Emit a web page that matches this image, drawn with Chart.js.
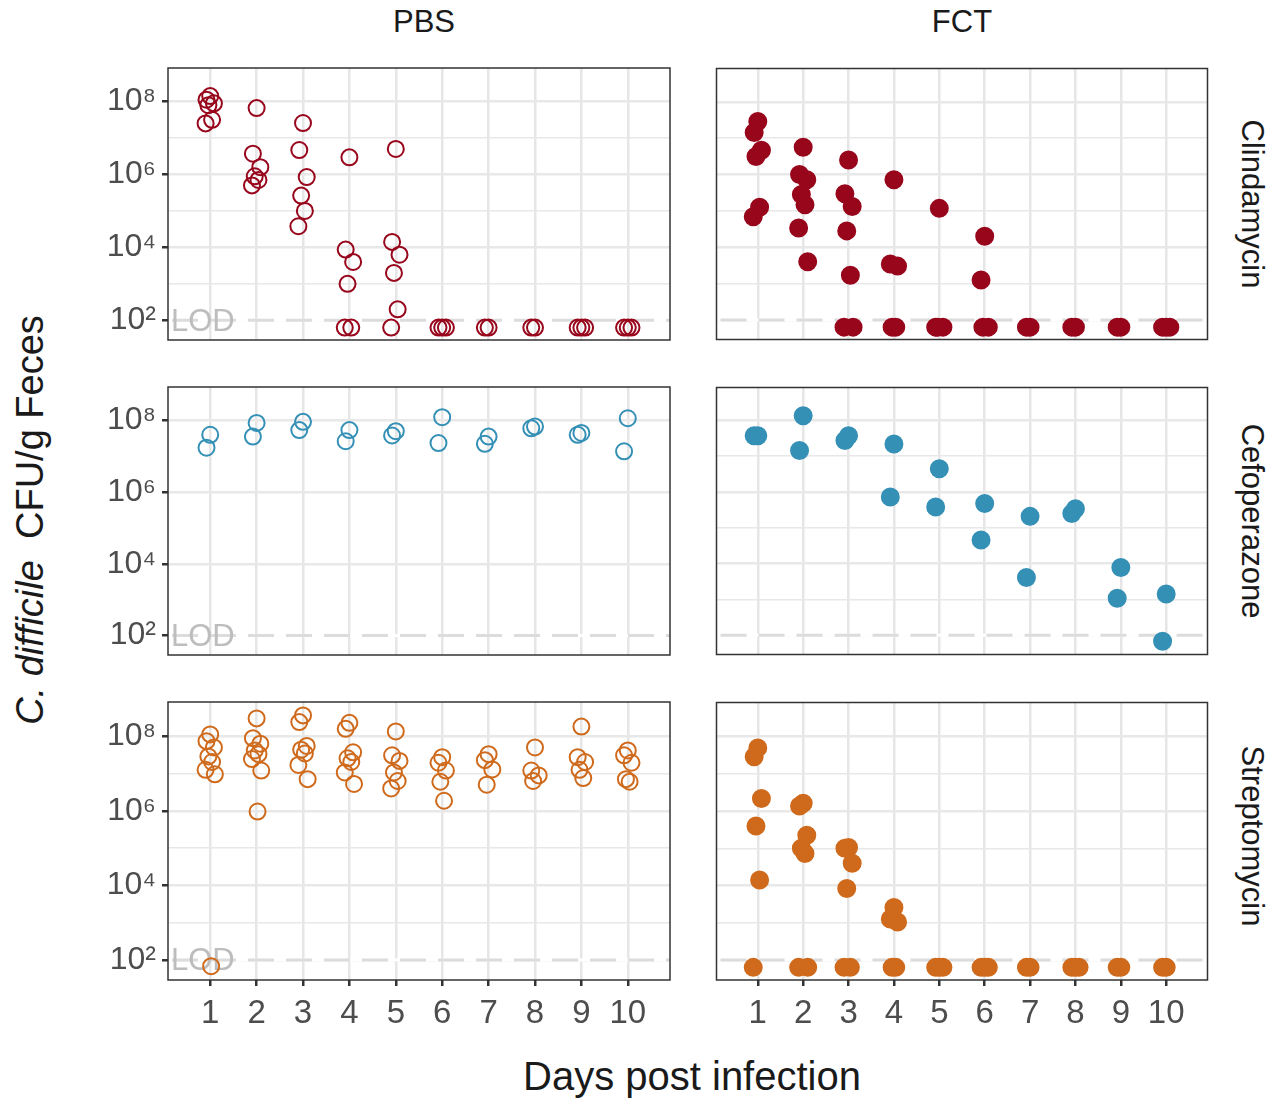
<!DOCTYPE html>
<html lang="en">
<head>
  <meta charset="UTF-8">
  <title>C. difficile CFU</title>
  <script src="https://cdn.jsdelivr.net/npm/chart.js"></script>
  <style>
    body { margin: 0; background: #fff; font-family: "Liberation Sans", Arial, sans-serif; }
    #wrap { position: relative; width: 1280px; height: 1111px; }
    .panel { position: absolute; }
    .txt { position: absolute; color: #1a1a1a; white-space: nowrap; }
    .strip { font-size: 31px; }
    .rot { transform-origin: center; transform: translate(-50%, -50%) rotate(90deg); }
  </style>
</head>
<body>
<div id="wrap">
  <div class="txt strip" style="left:424px;top:22px;transform:translate(-50%,-50%)">PBS</div>
  <div class="txt strip" style="left:962px;top:22px;transform:translate(-50%,-50%)">FCT</div>
  <div class="txt strip rot" style="left:1252px;top:204px">Clindamycin</div>
  <div class="txt strip rot" style="left:1252px;top:521px">Cefoperazone</div>
  <div class="txt strip rot" style="left:1252px;top:836px">Streptomycin</div>
  <div class="txt" style="left:30px;top:520px;font-size:38px;transform:translate(-50%,-50%) rotate(-90deg)"><i>C. difficile</i>&nbsp; CFU/g Feces</div>
  <div class="txt" style="left:692px;top:1076px;font-size:40px;transform:translate(-50%,-50%)">Days post infection</div>
</div>
<script>
  // values are log10(CFU/g); one inner list per day (1..10)
  const days = [1, 2, 3, 4, 5, 6, 7, 8, 9, 10];
  const yTicks = [2, 3, 4, 5, 6, 7, 8];
  const LOD = 2;
  const BL = 1.8; // below-detection points

  const clindaPBS = [
    [8.15, 8.05, 7.95, 7.9, 7.5, 7.4],
    [7.82, 6.57, 6.2, 5.95, 5.85, 5.7],
    [7.41, 6.67, 5.93, 5.42, 5.0, 4.58],
    [6.47, 3.94, 3.6, 3.0, BL, BL],
    [6.7, 4.15, 3.8, 3.3, 2.3, BL],
    [BL, BL, BL], [BL, BL], [BL, BL], [BL, BL, BL], [BL, BL, BL]
  ];
  const clindaFCT = [
    [7.46, 7.16, 6.67, 6.5, 5.1, 4.84],
    [6.75, 6.0, 5.86, 5.45, 5.17, 4.53, 3.6],
    [6.4, 5.47, 5.12, 4.45, 3.23, BL, BL],
    [5.86, 3.54, 3.48, BL, BL],
    [5.07, BL, BL, BL],
    [4.3, 3.1, BL, BL], [BL, BL], [BL, BL], [BL, BL], [BL, BL, BL]
  ];
  const cefoPBS = [
    [7.59, 7.23], [7.92, 7.54], [7.95, 7.72], [7.72, 7.41], [7.69, 7.57],
    [8.08, 7.36], [7.54, 7.34], [7.82, 7.77], [7.64, 7.59], [8.05, 7.13]
  ];
  const cefoFCT = [
    [7.57, 7.57], [8.13, 7.16], [7.57, 7.44], [7.34, 5.86], [6.65, 5.58],
    [5.68, 4.66], [5.32, 3.61], [5.53, 5.4], [3.89, 3.03], [3.15, 1.83]
  ];
  const strepPBS = [
    [8.05, 7.87, 7.7, 7.46, 7.31, 7.1, 6.98, 1.83],
    [8.48, 7.95, 7.8, 7.62, 7.52, 7.39, 7.08, 5.98],
    [8.56, 8.38, 7.74, 7.64, 7.54, 7.23, 6.85],
    [8.36, 8.2, 7.57, 7.41, 7.31, 7.03, 6.72],
    [8.13, 7.49, 7.34, 7.03, 6.8, 6.6],
    [7.44, 7.29, 7.08, 6.78, 6.27],
    [7.52, 7.36, 7.11, 6.7],
    [7.7, 7.08, 6.95, 6.8],
    [8.26, 7.44, 7.31, 7.1, 6.88],
    [7.62, 7.49, 7.29, 6.85, 6.78]
  ];
  const strepFCT = [
    [7.7, 7.46, 6.34, 5.6, 4.15, BL],
    [6.21, 6.14, 5.35, 5.0, 4.86, BL, BL],
    [5.02, 5.0, 4.6, 3.92, BL, BL],
    [3.41, 3.1, 3.02, BL, BL],
    [BL, BL, BL], [BL, BL, BL], [BL, BL], [BL, BL, BL], [BL, BL], [BL, BL]
  ];

  const RED = '#98061c', BLUE = '#3590b6', ORANGE = '#cf6a1c';
  const jitter = [0, -0.08, 0.08, -0.04, 0.04, -0.1, 0.1, 0.02];
  const sup = { 2: '²', 3: '³', 4: '⁴', 5: '⁵', 6: '⁶', 7: '⁷', 8: '⁸' };

  function toPoints(byDay) {
    const pts = [];
    byDay.forEach((vals, i) => vals.forEach((v, j) => pts.push({ x: days[i] + jitter[j % jitter.length], y: v })));
    return pts;
  }

  const frame = {
    id: 'frame',
    beforeDatasetsDraw(chart) {
      const { ctx, chartArea: a, scales } = chart;
      const y = scales.y.getPixelForValue(LOD);
      ctx.save();
      ctx.strokeStyle = '#ffffff'; ctx.lineWidth = 3;
      ctx.beginPath(); ctx.moveTo(a.left, y); ctx.lineTo(a.right, y); ctx.stroke();
      ctx.strokeStyle = '#dcdcdc'; ctx.setLineDash([26, 12]);
      ctx.beginPath(); ctx.moveTo(a.left + 4, y); ctx.lineTo(a.right, y); ctx.stroke();
      if (chart.options.showLod) {
        ctx.setLineDash([]);
        ctx.fillStyle = '#bdbdbd'; ctx.font = '31px "Liberation Sans", Arial';
        ctx.textBaseline = 'middle';
        ctx.fillText('LOD', a.left + 3, y + 2);
      }
      ctx.restore();
    },
    afterDraw(chart) {
      const { ctx, chartArea: a } = chart;
      ctx.save();
      ctx.strokeStyle = '#333'; ctx.lineWidth = 1.5;
      ctx.strokeRect(a.left, a.top, a.right - a.left, a.bottom - a.top);
      ctx.restore();
    }
  };

  function panel(left, top, w, h, data, color, filled, showY, showX) {
    const div = document.createElement('div');
    div.className = 'panel';
    Object.assign(div.style, { left: left + 'px', top: top + 'px', width: w + 'px', height: h + 'px' });
    const cv = document.createElement('canvas');
    div.appendChild(cv);
    document.getElementById('wrap').appendChild(div);
    new Chart(cv, {
      type: 'scatter',
      data: { datasets: [{
        data: toPoints(data),
        pointRadius: filled ? 8.5 : 8,
        borderWidth: 2,
        borderColor: color,
        backgroundColor: filled ? color : 'rgba(0,0,0,0)'
      }] },
      plugins: [frame],
      options: {
        showLod: showY,
        responsive: true, maintainAspectRatio: false, animation: false,
        layout: { padding: 0 },
        plugins: { legend: { display: false }, tooltip: { enabled: false } },
        scales: {
          x: {
            type: 'linear', min: 0.09, max: 10.91,
            afterBuildTicks: s => { s.ticks = days.map(v => ({ value: v })); },
            afterFit: s => { s.height = showX ? 62 : 0; s.paddingLeft = 0; s.paddingRight = 0; },
            border: { display: false },
            grid: { color: '#e6e6e6', lineWidth: 2.5, drawTicks: showX, tickLength: 6, tickColor: '#333' },
            ticks: { display: showX, padding: 8, color: '#4d4d4d', font: { size: 33, family: '"Liberation Sans", Arial' } }
          },
          y: {
            type: 'linear', min: 1.46, max: 8.92,
            afterBuildTicks: s => { s.ticks = yTicks.map(v => ({ value: v })); },
            afterFit: s => { s.width = showY ? 108 : 0; s.paddingTop = 0; s.paddingBottom = 0; },
            border: { display: false },
            grid: {
              color: '#e8e8e8',
              lineWidth: c => (c.tick && c.tick.value % 2 === 0) ? 2.5 : 1.5,
              drawTicks: showY, tickLength: 6,
              tickColor: c => (c.tick && c.tick.value % 2 === 0) ? '#333' : 'rgba(0,0,0,0)'
            },
            ticks: {
              display: showY, padding: 6, color: '#4d4d4d',
              font: { size: 32, family: '"Liberation Sans", Arial' },
              callback: v => v % 2 === 0 ? '10' + sup[v] : ''
            }
          }
        }
      }
    });
  }

  panel(60, 58, 620, 292, clindaPBS, RED, false, true, false);
  panel(706, 58, 512, 292, clindaFCT, RED, true, false, false);
  panel(60, 377, 620, 288, cefoPBS, BLUE, false, true, false);
  panel(706, 377, 512, 288, cefoFCT, BLUE, true, false, false);
  panel(60, 692, 620, 350, strepPBS, ORANGE, false, true, true);
  panel(706, 692, 512, 350, strepFCT, ORANGE, true, false, true);
</script>
</body>
</html>
